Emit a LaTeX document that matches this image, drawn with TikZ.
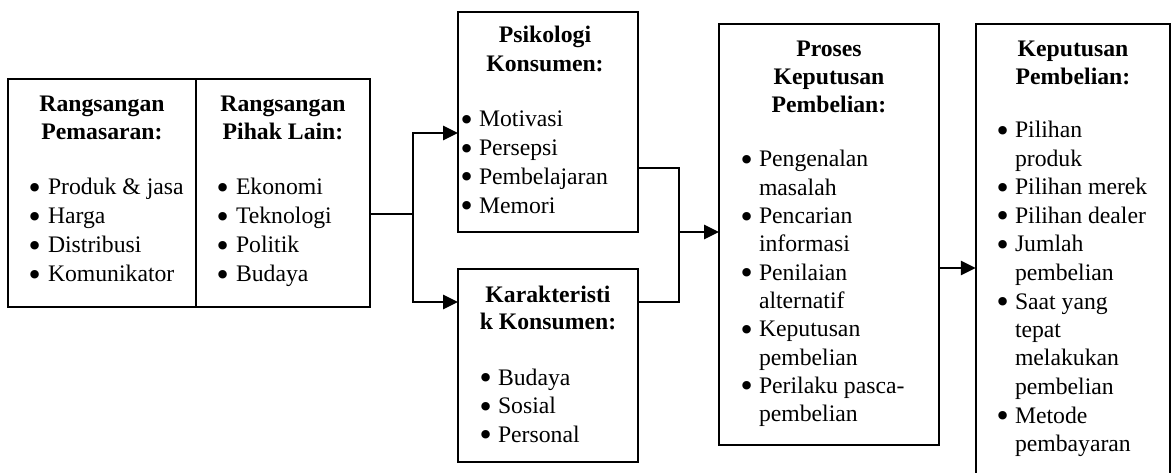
\documentclass[tikz,border=0pt]{standalone}
\usepackage{fontspec}
\setmainfont{Liberation Serif}
\newfontfamily\bulfont{DejaVu Sans}
\usetikzlibrary{arrows.meta}
\tikzset{
  boxline/.style={draw, line width=1.8pt},
  conn/.style={line width=2.6pt},
  arr/.style={conn, -{Triangle[length=15pt,width=14pt]}},
  txt/.style={inner sep=0pt, outer sep=0pt, anchor=base west, font=\fontsize{23.7}{28.5}\selectfont},
  bul/.style={inner sep=0pt, outer sep=0pt, anchor=base west, yshift=-3.5pt, font=\fontsize{29}{29}\bulfont},
  head/.style={inner sep=0pt, outer sep=0pt, anchor=base, font=\fontsize{23.7}{28.5}\selectfont\bfseries},
  frame/.style={boxline, inner sep=0pt, outer sep=0pt},
}
\newcommand\mylist[6]{% name, bullet x, text x, first baseline, skip, entries
  \foreach \k/\t [count=\i from 0] in {#6} {
    \node[txt] (#1-\i) at (#3, #4+\i*#5) {\t};
    \if b\k \node[bul] (#1-b\i) at (#2, #4+\i*#5) {•}; \fi
  }}
\begin{document}
\begin{tikzpicture}[x=1pt,y=-1pt]
\useasboundingbox (0,0) rectangle (1171,473);
% boxes
\node[frame, minimum width=188pt, minimum height=228pt] (rp) at (102,193) {};
\node[frame, minimum width=174pt, minimum height=228pt] (rl) at (283,193) {};
\node[frame, minimum width=180pt, minimum height=220pt] (pk) at (548,122) {};
\node[frame, minimum width=180pt, minimum height=193pt] (kk) at (548,365.5) {};
\node[frame, minimum width=220pt, minimum height=421pt] (pr) at (829,234.5) {};
\node[inner sep=0pt, minimum width=194pt, minimum height=460pt] (kp) at (1073,254) {};
\draw[boxline] (kp.south west) -- (kp.north west) -- (kp.north east) -- (kp.south east);
% headings
\node[head] (h1a) at (102,112) {Rangsangan};
\node[head] (h1b) at (102,140) {Pemasaran:};
\node[head] (h2a) at (283,112) {Rangsangan};
\node[head] (h2b) at (283,140) {Pihak Lain:};
\node[head] (h3a) at (545,43) {Psikologi};
\node[head] (h3b) at (545,72) {Konsumen:};
\node[head] (h4a) at (548,302) {Karakteristi};
\node[head] (h4b) at (548,330) {k Konsumen:};
\node[head] (h5a) at (829,57) {Proses};
\node[head] (h5b) at (829,85) {Keputusan};
\node[head] (h5c) at (829,113) {Pembelian:};
\node[head] (h6a) at (1073,57) {Keputusan};
\node[head] (h6b) at (1073,85) {Pembelian:};
% lists
\mylist{la}{27}{48}{195}{29}{b/Produk \& jasa, b/Harga, b/Distribusi, b/Komunikator}
\mylist{lb}{214.5}{236}{195}{29}{b/Ekonomi, b/Teknologi, b/Politik, b/Budaya}
\mylist{lc}{458.5}{479}{127}{28.7}{b/Motivasi, b/Persepsi, b/Pembelajaran, b/Memori}
\mylist{ld}{477.5}{498}{385}{28.5}{b/Budaya, b/Sosial, b/Personal}
\mylist{le}{738.5}{759}{167}{28.3}{b/Pengenalan, c/masalah, b/Pencarian, c/informasi, b/Penilaian, c/alternatif, b/Keputusan, c/pembelian, b/Perilaku pasca-, c/pembelian}
\mylist{lf}{994.5}{1015}{138}{28.5}{b/Pilihan, c/produk, b/Pilihan merek, b/Pilihan dealer, b/Jumlah, c/pembelian, b/Saat yang, c/tepat, c/melakukan, c/pembelian, b/Metode, c/pembayaran}
% connectors
\coordinate (s1) at (413,214);
\draw[conn] (rl.east |- s1) -- (s1);
\draw[arr] (s1) |- (pk.west |- 0,133);
\draw[arr] (s1) |- (kk.west |- 0,302);
\coordinate (s2) at (679,232);
\draw[conn] (pk.east |- 0,168) -| (s2);
\draw[conn] (kk.east |- 0,302) -| (s2);
\draw[arr] (s2) -- (pr.west |- s2);
\draw[arr] (pr.east |- 0,268) -- (kp.west |- 0,268);
\end{tikzpicture}
\end{document}
